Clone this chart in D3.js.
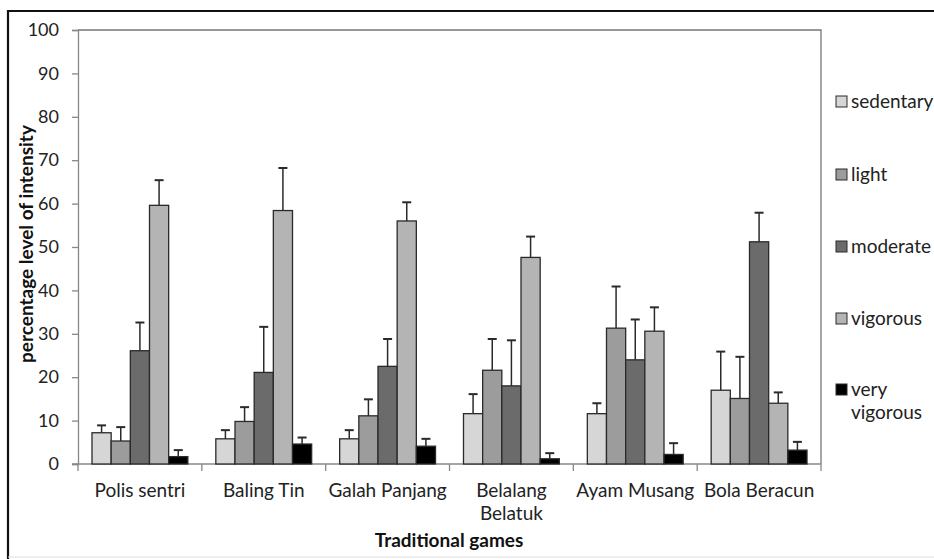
<!DOCTYPE html>
<html><head><meta charset="utf-8">
<script src="https://cdnjs.cloudflare.com/ajax/libs/d3/7.8.5/d3.min.js"></script>
<style>html,body{margin:0;padding:0;background:#fff;}svg{display:block;}</style>
</head><body>
<svg id="chart" width="934" height="559"></svg>
<script>
const categories = ["Polis sentri", "Baling Tin", "Galah Panjang", "Belalang Belatuk", "Ayam Musang", "Bola Beracun"];
const categoryLines = [["Polis sentri"], ["Baling Tin"], ["Galah Panjang"], ["Belalang", "Belatuk"], ["Ayam Musang"], ["Bola Beracun"]];
const seriesNames = ["sedentary", "light", "moderate", "vigorous", "very vigorous"];
const seriesColors = ["#d6d6d6", "#9c9c9c", "#6b6b6b", "#b4b4b4", "#000000"];
const sedentary     = [7.2, 5.8, 5.8, 11.6, 11.6, 17.0];
const light         = [5.3, 9.8, 11.1, 21.6, 31.3, 15.1];
const moderate      = [26.1, 21.1, 22.5, 18.0, 24.0, 51.2];
const vigorous      = [59.6, 58.4, 56.0, 47.6, 30.6, 14.0];
const veryVigorous  = [1.7, 4.6, 4.1, 1.2, 2.2, 3.2];
const sedentaryErr    = [8.9, 7.8, 7.8, 16.1, 14.0, 25.9];
const lightErr        = [8.5, 13.1, 14.9, 28.8, 40.9, 24.7];
const moderateErr     = [32.6, 31.6, 28.8, 28.5, 33.3, 57.9];
const vigorousErr     = [65.4, 68.2, 60.3, 52.4, 36.1, 16.5];
const veryVigorousErr = [3.2, 6.1, 5.8, 2.5, 4.8, 5.1];
const yTicks = [0, 10, 20, 30, 40, 50, 60, 70, 80, 90, 100];

const values = [sedentary, light, moderate, vigorous, veryVigorous];
const errs = [sedentaryErr, lightErr, moderateErr, vigorousErr, veryVigorousErr];

const svg = d3.select("#chart");
const FONT = "Lato, 'Open Sans', sans-serif";
const pLeft = 78, pRight = 821, pTop = 30, pBottom = 464;

// outer frame
svg.append("line").attr("x1", 8).attr("x2", 934).attr("y1", 11).attr("y2", 11).attr("stroke", "#111").attr("stroke-width", 2.2);
svg.append("line").attr("x1", 8).attr("x2", 8).attr("y1", 10).attr("y2", 559).attr("stroke", "#111").attr("stroke-width", 2.2);
svg.append("line").attr("x1", 8).attr("x2", 934).attr("y1", 557).attr("y2", 557).attr("stroke", "#ddd").attr("stroke-width", 1);

const x0 = d3.scaleBand().domain(categories).range([pLeft, pRight]).padding(0);
const bw = x0.bandwidth();
const x1 = d3.scaleBand().domain(seriesNames).range([0.113 * bw, 0.887 * bw]).padding(0);
const y = d3.scaleLinear().domain([0, 100]).range([pBottom, pTop]);

// plot area frame (top, right)
svg.append("path").attr("d", `M${pLeft},${pTop}H${pRight}V${pBottom}`).attr("fill", "none").attr("stroke", "#777").attr("stroke-width", 1.3);

// y axis
const yAxis = svg.append("g").attr("transform", `translate(${pLeft},0)`)
  .call(d3.axisLeft(y).tickValues(yTicks).tickSize(6).tickPadding(13));
yAxis.select(".domain").attr("stroke", "#888").attr("stroke-width", 1.3);
yAxis.selectAll(".tick line").attr("stroke", "#888").attr("stroke-width", 1.3);
yAxis.selectAll(".tick text").attr("font-family", FONT).attr("font-size", "18px").attr("fill", "#222");

// x axis
svg.append("line").attr("x1", pLeft - 6).attr("x2", pRight).attr("y1", pBottom).attr("y2", pBottom).attr("stroke", "#888").attr("stroke-width", 1.3);
const boundaries = categories.map(c => x0(c)).concat([pRight]);
svg.selectAll(".xtick").data(boundaries).enter().append("line")
  .attr("x1", d => d).attr("x2", d => d).attr("y1", pBottom).attr("y2", pBottom + 7)
  .attr("stroke", "#888").attr("stroke-width", 1.3);

// bars
const groups = svg.selectAll(".grp").data(categories).enter().append("g")
  .attr("transform", c => `translate(${x0(c)},0)`);
seriesNames.forEach((s, si) => {
  groups.append("rect")
    .attr("x", x1(s)).attr("width", x1.bandwidth())
    .attr("y", (c, ci) => y(values[si][ci]))
    .attr("height", (c, ci) => y(0) - y(values[si][ci]))
    .attr("fill", seriesColors[si]).attr("stroke", "#2a2a2a").attr("stroke-width", 1.3);
  groups.append("line")
    .attr("x1", x1(s) + x1.bandwidth() / 2).attr("x2", x1(s) + x1.bandwidth() / 2)
    .attr("y1", (c, ci) => y(values[si][ci])).attr("y2", (c, ci) => y(errs[si][ci]))
    .attr("stroke", "#2a2a2a").attr("stroke-width", 1.5);
  groups.append("line")
    .attr("x1", x1(s) + x1.bandwidth() / 2 - 4.5).attr("x2", x1(s) + x1.bandwidth() / 2 + 4.5)
    .attr("y1", (c, ci) => y(errs[si][ci])).attr("y2", (c, ci) => y(errs[si][ci]))
    .attr("stroke", "#2a2a2a").attr("stroke-width", 2);
});

// category labels
categories.forEach((c, ci) => {
  const t = svg.append("text").attr("x", x0(c) + bw / 2).attr("y", 497)
    .attr("text-anchor", "middle").attr("font-family", FONT).attr("font-size", "19px").attr("fill", "#222");
  categoryLines[ci].forEach((ln, li) => {
    t.append("tspan").attr("x", x0(c) + bw / 2).attr("dy", li === 0 ? 0 : 23).text(ln);
  });
});

// axis titles
svg.append("text").attr("x", 449).attr("y", 547).attr("text-anchor", "middle")
  .attr("font-family", FONT).attr("font-size", "19px").attr("font-weight", "bold").attr("fill", "#111")
  .text("Traditional games");
svg.append("text").attr("transform", `translate(33,244) rotate(-90)`)
  .attr("text-anchor", "middle").attr("font-family", FONT).attr("font-size", "19px").attr("font-weight", "bold").attr("fill", "#111")
  .text("percentage level of intensity");

// legend
const legendY = [96, 169, 241, 313, 384];
seriesNames.forEach((s, si) => {
  const g = svg.append("g").attr("transform", `translate(836,${legendY[si]})`);
  g.append("rect").attr("width", 11).attr("height", 11).attr("fill", seriesColors[si]).attr("stroke", "#2a2a2a").attr("stroke-width", 1);
  const words = s === "very vigorous" ? ["very", "vigorous"] : [s];
  const t = g.append("text").attr("x", 15).attr("y", 12).attr("font-family", FONT).attr("font-size", "19px").attr("fill", "#222");
  words.forEach((w, wi) => t.append("tspan").attr("x", 15).attr("dy", wi === 0 ? 0 : 23).text(w));
});
</script>
</body></html>
